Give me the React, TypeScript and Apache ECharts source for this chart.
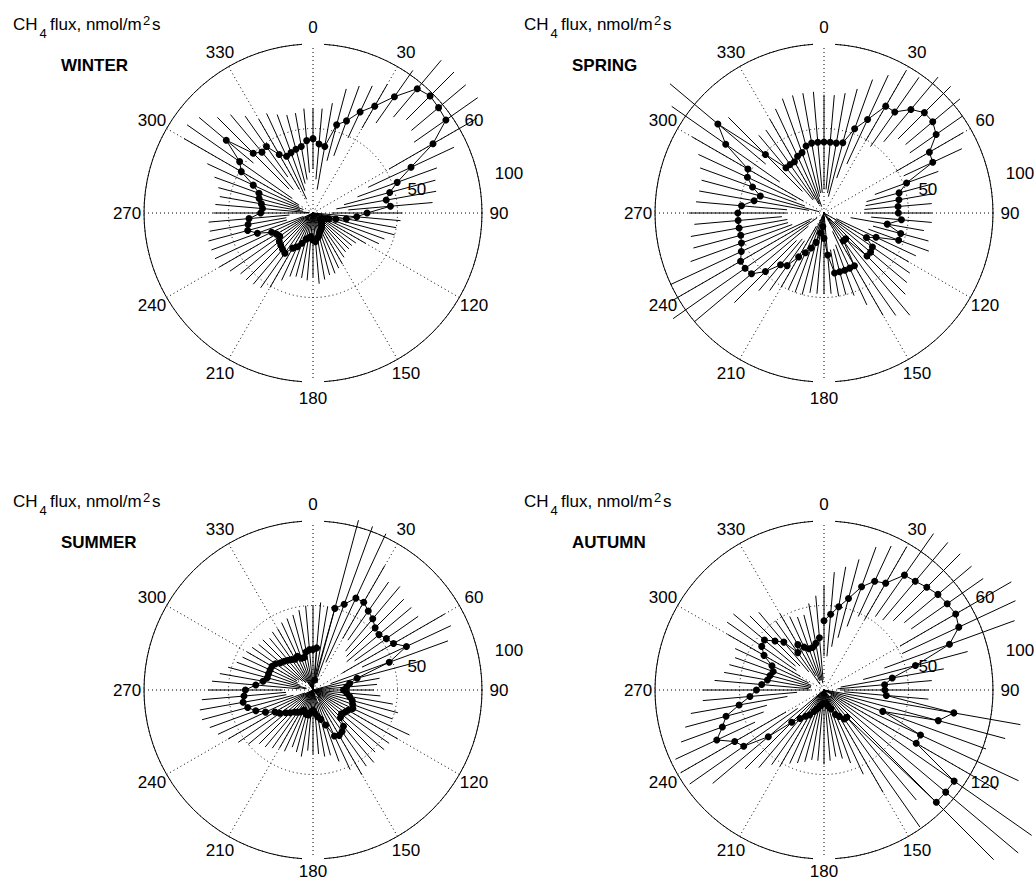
import React, { useEffect, useRef } from "react";
import * as echarts from "echarts";

// Wind direction (degrees), one value every 5 degrees
const ANGLES = [
  0, 5, 10, 15, 20, 25, 30, 35, 40, 45, 50, 55, 60, 65, 70, 75, 80, 85,
  90, 95, 100, 105, 110, 115, 120, 125, 130, 135, 140, 145, 150, 155, 160, 165, 170, 175,
  180, 185, 190, 195, 200, 205, 210, 215, 220, 225, 230, 235, 240, 245, 250, 255, 260, 265,
  270, 275, 280, 285, 290, 295, 300, 305, 310, 315, 320, 325, 330, 335, 340, 345, 350, 355,
];
const ANGLE_TICKS = [0, 30, 60, 90, 120, 150, 180, 210, 240, 270, 300, 330];
const RADIUS_TICKS = [50, 100];

// WINTER
const winterMean = [44, 41, 40, 54, 58, 66, 73, 84, 96, 98, 97, 96, 82, 64, 53, 47, 44, 46, 32, 26, 20, 14, 10, 8, 7, 6, 6, 7, 8, 9, 10, 11, 12, 14, 15, 17, 16, 14, 15, 16, 19, 22, 24, 29, 28, 27, 26, 24, 25, 27, 35, 40, 39, 38, 31, 30, 31, 33, 34, 39, 49, 53, 67, 50, 47, 48, 40, 37, 38, 39, 40, 43];
const winterLo = [26, 20, 14, 32, 36, 49, 58, 65, 74, 78, 76, 73, 52, 36, 28, 19, 14, 21, 11, 0, 0, 0, 0, 0, 0, 0, 0, 0, 0, 0, 0, 0, 0, 0, 0, 0, 0, 0, 0, 0, 0, 0, 0, 4, 1, 0, 0, 0, 0, 0, 6, 16, 16, 14, 3, 2, 6, 8, 6, 9, 10, 15, 46, 20, 18, 26, 16, 9, 14, 18, 20, 24];
const winterHi = [62, 62, 66, 76, 80, 83, 88, 103, 118, 118, 118, 119, 112, 92, 78, 75, 74, 71, 53, 52, 50, 50, 45, 43, 36, 31, 30, 30, 30, 32, 35, 36, 38, 38, 40, 42, 38, 40, 39, 39, 40, 44, 51, 54, 55, 56, 56, 60, 64, 64, 64, 64, 62, 62, 59, 58, 56, 58, 62, 69, 88, 91, 88, 80, 76, 70, 64, 65, 62, 60, 60, 62];

// SPRING
const springMean = [42, 42, 42, 43, 53, 61, 73, 73, 80, 84, 84, 81, 72, 71, 52, 46, 45, 44, 44, 46, 38, 47, 47, 34, 29, 35, 36, 36, 20, 20, 36, 36, 36, 36, 36, 25, 15, 8, 12, 18, 22, 26, 30, 38, 40, 49, 56, 57, 57, 54, 52, 51, 51, 51, 51, 49, 42, 39, 45, 50, 52, 71, 82, 49, 35, 35, 35, 37, 38, 41, 42, 42];
const springLo = [14, 14, 12, 10, 22, 32, 49, 48, 55, 62, 63, 62, 49, 52, 32, 26, 25, 24, 24, 28, 16, 30, 28, 8, 0, 8, 8, 4, 0, 0, 2, 12, 20, 22, 22, 2, 0, 0, 0, 0, 0, 0, 9, 20, 20, 23, 12, 5, 10, 8, 20, 22, 22, 25, 22, 22, 9, 3, 12, 18, 14, 32, 45, 18, 10, 10, 6, 6, 4, 10, 12, 12];
const springHi = [70, 70, 72, 76, 84, 90, 97, 98, 105, 106, 105, 100, 95, 90, 72, 66, 65, 64, 64, 64, 60, 64, 66, 60, 58, 62, 64, 68, 79, 74, 70, 60, 52, 50, 50, 48, 48, 48, 48, 50, 50, 50, 51, 56, 60, 75, 100, 109, 104, 100, 84, 80, 80, 77, 80, 76, 75, 75, 78, 82, 90, 110, 119, 80, 60, 60, 64, 68, 72, 72, 72, 72];

// SUMMER
const summerMean = [24, 25, 6, 50, 54, 60, 60, 57, 55, 52, 51, 53, 55, 61, 48, 27, 22, 20, 18, 20, 22, 24, 25, 26, 24, 23, 22, 23, 28, 30, 31, 30, 22, 18, 16, 14, 12, 13, 15, 15, 14, 13, 15, 16, 17, 19, 21, 24, 26, 31, 36, 40, 42, 41, 40, 34, 30, 28, 28, 28, 28, 27, 25, 24, 23, 22, 21, 22, 20, 20, 23, 24];
const summerLo = [0, 0, 0, 5, 8, 18, 35, 36, 30, 28, 26, 30, 20, 32, 11, 0, 4, 2, 0, 0, 0, 0, 0, 0, 0, 0, 0, 0, 0, 5, 4, 8, 0, 0, 0, 0, 0, 0, 0, 0, 0, 0, 0, 0, 0, 0, 0, 0, 0, 0, 5, 12, 16, 16, 18, 8, 4, 4, 8, 10, 11, 10, 8, 6, 6, 2, 0, 0, 0, 0, 0, 0];
const summerHi = [50, 52, 50, 104, 103, 102, 85, 78, 80, 76, 76, 76, 90, 90, 85, 65, 40, 38, 36, 40, 48, 52, 50, 63, 58, 55, 55, 52, 56, 55, 58, 52, 45, 40, 40, 38, 38, 36, 40, 38, 36, 40, 40, 42, 44, 45, 50, 54, 58, 62, 65, 68, 68, 66, 62, 60, 56, 52, 48, 46, 45, 44, 42, 42, 40, 42, 42, 44, 45, 46, 48, 50];

// AUTUMN
const autumnMean = [41, 45, 50, 56, 65, 71, 73, 83, 84, 86, 88, 89, 90, 88, 79, 56, 41, 36, 36, 37, 78, 70, 37, 63, 63, 94, 94, 94, 21, 21, 18, 16, 12, 10, 8, 8, 8, 8, 9, 10, 12, 14, 17, 19, 22, 27, 43, 58, 61, 70, 64, 60, 51, 44, 40, 37, 34, 33, 32, 34, 41, 45, 46, 41, 37, 27, 31, 28, 26, 26, 28, 31];
const autumnLo = [20, 20, 26, 32, 40, 48, 48, 53, 54, 58, 62, 63, 52, 51, 38, 24, 10, 8, 10, 12, 0, 0, 0, 0, 0, 5, 5, 5, 0, 0, 0, 0, 0, 0, 0, 0, 0, 0, 0, 0, 0, 0, 0, 0, 0, 0, 0, 19, 26, 45, 38, 35, 22, 16, 8, 9, 8, 8, 8, 10, 16, 20, 22, 20, 14, 4, 10, 6, 6, 6, 4, 6];
const autumnHi = [62, 70, 74, 80, 90, 94, 98, 113, 114, 114, 114, 115, 128, 125, 120, 88, 72, 64, 62, 62, 118, 111, 102, 127, 118, 150, 150, 142, 85, 99, 70, 55, 46, 42, 40, 42, 44, 42, 42, 44, 46, 48, 52, 54, 60, 66, 86, 97, 98, 97, 90, 85, 80, 72, 72, 65, 60, 58, 56, 58, 66, 70, 70, 62, 60, 50, 52, 48, 46, 46, 52, 56];

const SEASONS = [
  { title: "WINTER", mean: winterMean, lo: winterLo, hi: winterHi },
  { title: "SPRING", mean: springMean, lo: springLo, hi: springHi },
  { title: "SUMMER", mean: summerMean, lo: summerLo, hi: summerHi },
  { title: "AUTUMN", mean: autumnMean, lo: autumnLo, hi: autumnHi },
];

// layout
const CENTERS: [number, number][] = [
  [313, 213],
  [824, 213],
  [313, 690],
  [824, 690],
];
const RADIUS = 169;
const LABEL_R = 110; // angle labels at 1.1 x max radius
const RTICK_ANGLE = 80;
const FAMILY = '"Liberation Sans", Arial, Helvetica, sans-serif';
const FONT = `17px ${FAMILY}`;

function buildOption() {
  const polar = CENTERS.map((c) => ({ center: c, radius: RADIUS }));
  const dotted = { color: "#000", width: 1, type: [1, 3] as number[] };
  const angleAxis = CENTERS.map((_, i) => ({
    polarIndex: i,
    type: "value",
    min: 0,
    max: 360,
    interval: 30,
    startAngle: 90,
    clockwise: true,
    axisLine: { show: true, lineStyle: { color: "#000", width: 1 } },
    axisTick: { show: false },
    axisLabel: { show: false },
    splitLine: { show: true, lineStyle: dotted },
  }));
  const radiusAxis = CENTERS.map((_, i) => ({
    polarIndex: i,
    type: "value",
    min: 0,
    max: 100,
    interval: 50,
    axisLine: { show: false },
    axisTick: { show: false },
    axisLabel: { show: false },
    splitLine: { show: true, lineStyle: dotted },
  }));

  const series: any[] = [];
  const graphics: any[] = [];

  SEASONS.forEach((s, i) => {
    // error bars
    series.push({
      type: "custom",
      coordinateSystem: "polar",
      polarIndex: i,
      clip: false,
      silent: true,
      z: 2,
      data: ANGLES.map((a, k) => [s.lo[k], a, s.hi[k]]),
      renderItem: (_p: any, api: any) => {
        const a = api.value(1);
        const p1 = api.coord([api.value(0), a]);
        const p2 = api.coord([api.value(2), a]);
        return {
          type: "line",
          shape: { x1: p1[0], y1: p1[1], x2: p2[0], y2: p2[1] },
          style: { stroke: "#000", lineWidth: 1 },
        };
      },
    });
    // mean line with markers
    series.push({
      type: "line",
      coordinateSystem: "polar",
      polarIndex: i,
      z: 3,
      clip: false,
      symbol: "circle",
      symbolSize: 7,
      showSymbol: true,
      itemStyle: { color: "#000" },
      lineStyle: { color: "#000", width: 1 },
      data: ANGLES.map((a, k) => [s.mean[k], a]),
    });
    // gaps in outer circle at 0 and 180
    series.push({
      type: "custom",
      coordinateSystem: "polar",
      polarIndex: i,
      clip: false,
      silent: true,
      z: 4,
      data: [
        [100, 0],
        [100, 180],
      ],
      renderItem: (_p: any, api: any) => {
        const p = api.coord([api.value(0), api.value(1)]);
        return {
          type: "rect",
          shape: { x: p[0] - 11, y: p[1] - 2, width: 22, height: 4 },
          style: { fill: "#fff" },
        };
      },
    });
    // angle labels
    series.push({
      type: "custom",
      coordinateSystem: "polar",
      polarIndex: i,
      clip: false,
      silent: true,
      z: 5,
      data: ANGLE_TICKS.map((a) => [LABEL_R, a]),
      renderItem: (_p: any, api: any) => {
        const a = api.value(1);
        const p = api.coord([api.value(0), a]);
        // keep the label inside the canvas
        const y = Math.min(p[1], api.getHeight() - 10);
        return {
          type: "text",
          x: p[0],
          y,
          style: {
            text: String(a),
            font: FONT,
            fill: "#000",
            align: "center",
            verticalAlign: "middle",
            textAlign: "center",
            textVerticalAlign: "middle",
          },
        };
      },
    });
    // radius labels
    series.push({
      type: "custom",
      coordinateSystem: "polar",
      polarIndex: i,
      clip: false,
      silent: true,
      z: 5,
      data: RADIUS_TICKS.map((v) => [v * 1.05, RTICK_ANGLE, v]),
      renderItem: (_p: any, api: any) => {
        const p = api.coord([api.value(0), api.value(1)]);
        return {
          type: "text",
          x: p[0] + 7,
          y: p[1],
          style: {
            text: String(api.value(2)),
            font: FONT,
            fill: "#000",
            align: "left",
            verticalAlign: "bottom",
            textAlign: "left",
            textVerticalAlign: "bottom",
          },
        };
      },
    });

    // titles
    const ox = CENTERS[i][0] - CENTERS[0][0];
    const oy = CENTERS[i][1] - CENTERS[0][1];
    const t = (text: string, x: number, y: number, size: number, bold = false) => ({
      type: "text",
      x: x + ox,
      y: y + oy,
      silent: true,
      style: {
        text,
        font: `${bold ? "bold " : ""}${size}px ${FAMILY}`,
        fill: "#000",
        align: "left",
        verticalAlign: "middle",
      },
    });
    graphics.push(t("CH", 13, 24.8, 17));
    graphics.push(t("4", 39.5, 33.5, 13));
    graphics.push(t("flux, nmol/m", 50, 24.8, 17));
    graphics.push(t("2", 143, 20, 13));
    graphics.push(t("s", 152, 24.8, 17));
    graphics.push(t(s.title, 61, 65.8, 17, true));
  });

  return {
    animation: false,
    backgroundColor: "#fff",
    polar,
    angleAxis,
    radiusAxis,
    series,
    graphic: { elements: graphics },
  };
}

export default function App() {
  const ref = useRef<HTMLDivElement>(null);
  useEffect(() => {
    if (!ref.current) return;
    const chart = echarts.init(ref.current, undefined, { renderer: "svg" });
    chart.setOption(buildOption() as any);
    return () => chart.dispose();
  }, []);
  return (
    <div
      ref={ref}
      style={{ position: "fixed", left: 0, top: 0, width: 1034, height: 881, background: "#fff" }}
    />
  );
}
